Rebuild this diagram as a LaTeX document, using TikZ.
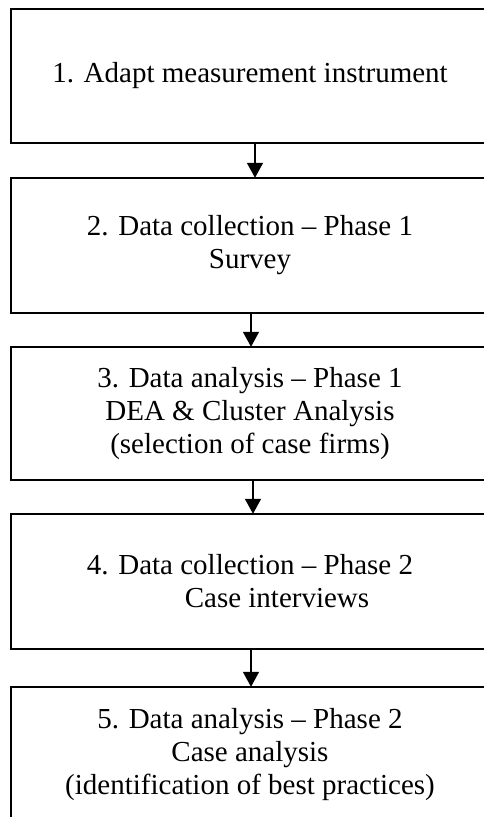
\documentclass[tikz,border=0pt]{standalone}
\usepackage{fontspec}
\setmainfont{Liberation Serif}
\usetikzlibrary{arrows.meta}
\begin{document}
\begin{tikzpicture}[x=1pt,y=-1pt,
  stage/.style={rectangle, minimum width=478pt, inner sep=0pt, align=center,
    font=\fontsize{29}{33}\selectfont},
  border/.style={line width=1.6pt},
  flow/.style={line width=1.5pt, -{Triangle[width=16pt,length=15pt]}}]
  \useasboundingbox (0,0) rectangle (483,817);

  \node[stage, minimum height=134pt] (b1) at (250,76)
    {1. Adapt measurement instrument};
  \node[stage, minimum height=135pt] (b2) at (250,245.5)
    {2. Data collection -- Phase 1\\Survey};
  \node[stage, minimum height=133pt] (b3) at (250,413.5)
    {3. Data analysis -- Phase 1\\DEA \& Cluster Analysis\\(selection of case firms)};
  \node[stage, minimum height=135pt] (b4) at (250,581.5)
    {4. Data collection -- Phase 2\\\hspace*{54pt}Case interviews};
  \node[stage, minimum height=135pt] (b5) at (250,754.5)
    {5. Data analysis -- Phase 2\\Case analysis\\(identification of best practices)};

  % box frames run off the right margin of the page
  \foreach \b in {b1,b2,b3,b4,b5}
    \draw[border] ([xshift=30pt]\b.north east) -- (\b.north west)
      -- (\b.south west) -- ([xshift=30pt]\b.south east);

  \draw[flow] ([xshift=5pt]b1.south) -- ([xshift=5pt]b2.north);
  \draw[flow] ([xshift=1pt]b2.south) -- ([xshift=1pt]b3.north);
  \draw[flow] ([xshift=3pt]b3.south) -- ([xshift=3pt]b4.north);
  \draw[flow] ([xshift=1pt]b4.south) -- ([xshift=1pt]b5.north);
\end{tikzpicture}
\end{document}
